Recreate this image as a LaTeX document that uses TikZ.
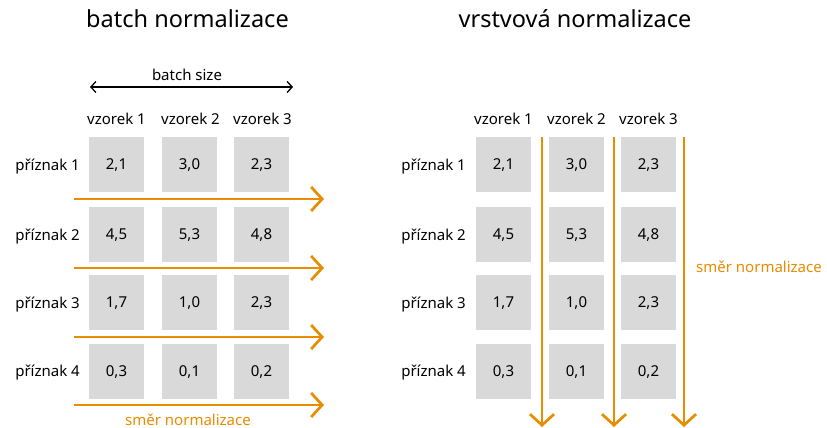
\documentclass[tikz,border=0pt]{standalone}
\usepackage{fontspec}
\setmainfont{Noto Sans}
\usetikzlibrary{arrows.meta}
\definecolor{orng}{RGB}{232,140,0}
\definecolor{cellgray}{RGB}{217,217,217}
\begin{document}
\begin{tikzpicture}[x=1pt,y=-1pt,
  cell/.style={fill=cellgray, minimum width=55pt, minimum height=55pt, inner sep=0pt,
    text height=10.5pt, text depth=0pt, font=\fontsize{15}{17}\selectfont},
  lbl/.style={font=\fontsize{15}{17}\selectfont, inner sep=0pt},
  ttl/.style={font=\fontsize{23.5}{26}\selectfont, inner sep=0pt},
  orarrow/.style={draw=orng, line width=2.7pt, -{Straight Barb[length=11pt,width=24pt]}},
  note/.style={font=\fontsize{15}{17}\selectfont, text=orng, inner sep=0pt}]
\useasboundingbox (0,0) rectangle (827,428);

% titles
\node[ttl, anchor=base] (t1) at (187.5,28) {batch normalizace};
\node[ttl, anchor=base] (t2) at (575,28) {vrstvová normalizace};

% batch size
\node[lbl, anchor=base] (bs) at (187,81) {batch size};
\coordinate (bsl) at (90,87);
\coordinate (bsr) at (293,87);
\draw[line width=1.3pt, {Straight Barb[length=5pt,width=11pt]}-{Straight Barb[length=5pt,width=11pt]}] (bsl) -- (bsr);

% column headers
\foreach \c/\x in {1/116.5,2/190.5,3/262.5}{
  \node[lbl, anchor=base] (lh\c) at (\x,124) {vzorek \c};
}
\foreach \c/\x in {1/503.5,2/576.5,3/648.5}{
  \node[lbl, anchor=base] (rh\c) at (\x,124) {vzorek \c};
}
% rows
\foreach \r/\y/\a/\b/\d in {1/164.5/{2,1}/{3,0}/{2,3},
                           2/234.5/{4,5}/{5,3}/{4,8},
                           3/302.5/{1,7}/{1,0}/{2,3},
                           4/371/{0,3}/{0,1}/{0,2}}{
  \node[lbl, anchor=base east] (lr\r) at (80,\y+5.5) {příznak \r};
  \node[cell] (L\r a) at (116.5,\y) {\a};
  \node[cell] (L\r b) at (189.5,\y) {\b};
  \node[cell] (L\r c) at (261.5,\y) {\d};
  \node[lbl, anchor=base east] (rr\r) at (466,\y+5.5) {příznak \r};
  \node[cell] (R\r a) at (503.5,\y) {\a};
  \node[cell] (R\r b) at (576.5,\y) {\b};
  \node[cell] (R\r c) at (648.5,\y) {\d};
}

% horizontal arrows (batch)
\foreach \i/\y in {1/199,2/268,3/337,4/405}{
  \coordinate (hs\i) at (74,\y);
  \coordinate (he\i) at (324,\y);
  \draw[orarrow] (hs\i) -- (he\i);
}
\node[note, anchor=base] (n1) at (188,425) {směr normalizace};

% vertical arrows (layer)
\foreach \i/\x in {1/542,2/614,3/684}{
  \coordinate (vs\i) at (\x,137);
  \coordinate (ve\i) at (\x,427);
  \draw[orarrow] (vs\i) -- (ve\i);
}
\node[note, anchor=base west] (n2) at (696,272) {směr normalizace};
\end{tikzpicture}
\end{document}
